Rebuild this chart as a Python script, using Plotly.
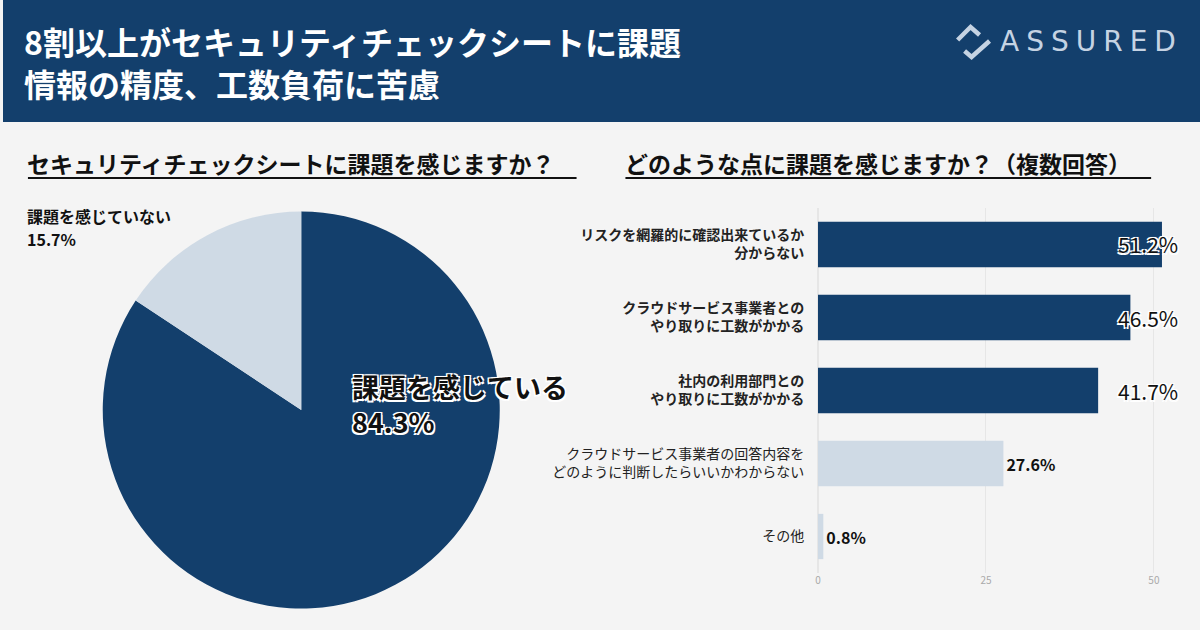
import plotly.graph_objects as go

# --- data ---
pie_labels = ["課題を感じている", "課題を感じていない"]
pie_values = [84.3, 15.7]

bar_labels = [
    "リスクを網羅的に確認出来ているか<br>分からない",
    "クラウドサービス事業者との<br>やり取りに工数がかかる",
    "社内の利用部門との<br>やり取りに工数がかかる",
    "クラウドサービス事業者の回答内容を<br>どのように判断したらいいかわからない",
    "その他",
]
bar_values = [51.2, 46.5, 41.7, 27.6, 0.8]
x_ticks = [0, 25, 50]

title_lines = ["8割以上がセキュリティチェックシートに課題", "情報の精度、工数負荷に苦慮"]
left_heading = "セキュリティチェックシートに課題を感じますか？"
right_heading = "どのような点に課題を感じますか？（複数回答）"

NAVY = "#133F6C"
LIGHT = "#CFDAE5"
BG = "#F4F4F4"
JP = "Noto Sans CJK JP"
OUTLINE = "-1.5px -1.5px 0 #fff, 1.5px -1.5px 0 #fff, -1.5px 1.5px 0 #fff, 1.5px 1.5px 0 #fff, 0 0 2px #fff"

W, H = 1200, 630
def px(x): return x / W
def py(y): return 1 - y / H

n_top = 3  # bars drawn dark, labels bold

fig = go.Figure()

fig.add_trace(go.Pie(
    labels=pie_labels, values=pie_values,
    sort=False, direction="clockwise", rotation=0,
    marker=dict(colors=[NAVY, LIGHT], line=dict(width=0)),
    textinfo="none", hoverinfo="label+percent",
    domain=dict(x=[px(100), px(498)], y=[py(610), py(210)]),
    showlegend=False,
))

bar_colors = [NAVY if i < n_top else LIGHT for i in range(len(bar_values))]
bar_text = ["" if i < n_top else f"<b>{v}%</b>" for i, v in enumerate(bar_values)]
fig.add_trace(go.Bar(
    y=bar_labels, x=bar_values, orientation="h",
    marker=dict(color=bar_colors, line=dict(width=0)),
    width=0.62,
    text=bar_text, textposition="outside", cliponaxis=False,
    textfont=dict(family=JP, size=16, color="#111"),
    xaxis="x", yaxis="y", showlegend=False,
))

ticktext = [f"<b>{c}</b>" if i < n_top else c for i, c in enumerate(bar_labels)]

annotations = []
# header title
annotations.append(dict(text=f"<b>{title_lines[0]}<br>{title_lines[1]}</b>", x=px(19), y=py(62), xref="paper", yref="paper",
                        xanchor="left", yanchor="middle", align="left", showarrow=False,
                        font=dict(family=JP, size=32, color="white")))
# logo
annotations.append(dict(text="A\u2005S\u2005S\u2005U\u2005R\u2005E\u2005D", x=px(1178), y=py(42), xref="paper", yref="paper",
                        xanchor="right", yanchor="middle", showarrow=False,
                        font=dict(family="DejaVu Sans", size=28, color="#C5D3E3")))
# headings
annotations.append(dict(text=f"<b>{left_heading}</b>", x=px(22), y=py(163), xref="paper", yref="paper",
                        xanchor="left", yanchor="middle", showarrow=False,
                        font=dict(family=JP, size=23, color="#111")))
annotations.append(dict(text=f"<b>{right_heading}</b>", x=px(622), y=py(163), xref="paper", yref="paper",
                        xanchor="left", yanchor="middle", showarrow=False,
                        font=dict(family=JP, size=23, color="#111")))
# pie labels
annotations.append(dict(text=f"<b>{pie_labels[0]}<br>{pie_values[0]}%</b>", x=px(348), y=py(404), xref="paper", yref="paper",
                        xanchor="left", yanchor="middle", align="left", showarrow=False,
                        font=dict(family=JP, size=27, color="#111", shadow=OUTLINE)))
annotations.append(dict(text=f"<b>{pie_labels[1]}</b>", x=px(22), y=py(216), xref="paper", yref="paper",
                        xanchor="left", yanchor="middle", align="left", showarrow=False,
                        font=dict(family=JP, size=16, color="#111")))
annotations.append(dict(text=f"<b>{pie_values[1]}%</b>", x=px(22), y=py(239), xref="paper", yref="paper",
                        xanchor="left", yanchor="middle", align="left", showarrow=False,
                        font=dict(family=JP, size=16, color="#111")))
# top bar values at a common position
for i in range(n_top):
    annotations.append(dict(text=f"{bar_values[i]}%", x=44.4, y=bar_labels[i], xref="x", yref="y",
                            xanchor="left", yanchor="middle", showarrow=False,
                            font=dict(family=JP, size=21, color="#111", shadow=OUTLINE)))

shapes = [
    dict(type="rect", xref="paper", yref="paper", x0=0, x1=1, y0=py(122), y1=1,
         fillcolor=NAVY, line=dict(width=0), layer="below"),
    dict(type="line", xref="paper", yref="paper", x0=px(25), x1=px(575), y0=py(178), y1=py(178),
         line=dict(color="#111", width=2)),
    dict(type="line", xref="paper", yref="paper", x0=px(624), x1=px(1151), y0=py(178), y1=py(178),
         line=dict(color="#111", width=2)),
    # logo mark
    dict(type="path", xref="paper", yref="paper",
         path=f"M {px(957)},{py(40)} L {px(970)},{py(27)} L {px(979)},{py(35)}",
         line=dict(color="#C5D3E3", width=4.5)),
    dict(type="path", xref="paper", yref="paper",
         path=f"M {px(964)},{py(51)} L {px(971)},{py(57)} L {px(989)},{py(41)}",
         line=dict(color="#C5D3E3", width=4.5)),
]

fig.update_layout(
    width=W, height=H,
    margin=dict(l=0, r=0, t=0, b=0),
    paper_bgcolor=BG, plot_bgcolor=BG,
    font=dict(family=JP, color="#111"),
    xaxis=dict(domain=[px(817), px(1174)], range=[0, 53], tickvals=x_ticks,
               showgrid=True, gridcolor="#E6E6E6", gridwidth=1,
               zeroline=True, zerolinecolor="#E6E6E6", showline=False,
               tickfont=dict(size=10, color="#AAAAAA"), ticks="", fixedrange=True),
    yaxis=dict(domain=[py(573), py(208)], autorange="reversed",
               tickvals=bar_labels, ticktext=ticktext,
               tickfont=dict(family=JP, size=14, color="#222"),
               ticks="outside", ticklen=10, tickcolor="rgba(0,0,0,0)",
               showgrid=False, zeroline=False, showline=False),
    bargap=0.38,
    annotations=annotations,
    shapes=shapes,
)

fig.write_html("out.html", config={"displayModeBar": False},
               post_script="document.body.style.margin='0';")
